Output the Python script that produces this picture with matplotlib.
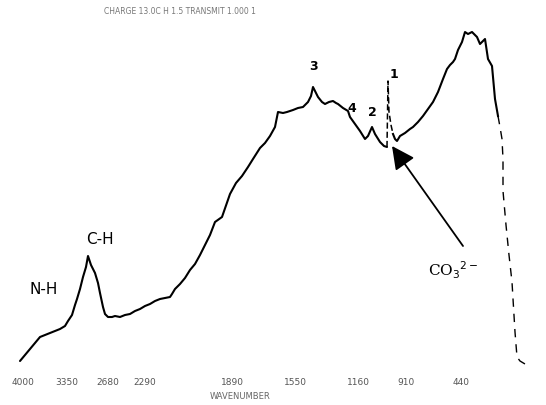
import matplotlib.pyplot as plt
from matplotlib.patches import FancyArrowPatch

# spectrum trace, chart units (x across, y up from bottom edge)
trace_x = [20, 25, 30, 35, 40, 45, 50, 55, 60, 65, 68, 72, 75, 77, 80, 83, 86, 88,
           91, 95, 98, 100, 103, 105, 108, 112, 115, 120, 125, 130, 135, 140, 145,
           150, 155, 160, 165, 170, 172, 175, 180, 185, 190, 195, 200, 205, 210,
           215, 222, 230, 236, 242, 248, 253, 260, 265, 270, 275, 278, 283, 287,
           293, 298, 303, 308, 311, 313, 315, 318, 322, 325, 329, 333, 336, 338,
           343, 348, 350, 355, 360, 365, 368, 372, 375, 380, 384, 387]
trace_y = [44, 50, 56, 62, 68, 70, 72, 74, 76, 79, 84, 90, 100, 106, 116, 128, 138, 149,
           140, 132, 122, 112, 98, 91, 88, 88, 89, 88, 90, 91, 94, 96, 99,
           101, 104, 106, 107, 108, 111, 116, 121, 127, 135, 141, 150, 160, 170,
           183, 188, 211, 222, 229, 238, 246, 257, 262, 269, 278, 293, 292, 293,
           295, 297, 298, 303, 309, 318, 314, 308, 303, 301, 303, 304, 302, 301,
           297, 294, 288, 281, 274, 266, 269, 278, 271, 263, 259, 258]

# sharp carbonate band "1"
spike_x = [387, 388, 389, 391, 393]
spike_y = [258, 324, 293, 280, 271]

rise_x = [393, 395, 397, 400, 405, 410, 413, 418, 423, 428, 433, 438, 443, 447,
          450, 453, 455, 458, 462, 465, 468, 472, 475, 477, 480, 483, 485, 488,
          492, 495, 498]
rise_y = [271, 266, 264, 269, 272, 276, 278, 283, 289, 296, 303, 313, 326, 336,
          340, 343, 346, 355, 363, 373, 371, 373, 370, 368, 361, 364, 366, 346,
          339, 306, 289]

fall_x = [498, 500, 502, 503, 503, 506, 509, 512, 515, 517, 520, 525]
fall_y = [289, 278, 266, 246, 214, 180, 150, 123, 73, 48, 44, 41]

tick_pos = [23, 67, 108, 145, 232, 295, 358, 406, 461]
tick_labels = ["4000", "3350", "2680", "2290", "1890", "1550", "1160", "910", "440"]

band_labels = ["3", "4", "2", "1"]
band_pos = [(313, 340), (352, 298), (372, 294), (394, 331)]

fig = plt.figure(figsize=(5.46, 4.06), dpi=100)
ax = fig.add_axes([0, 0, 1, 1])
ax.set_xlim(0, 546)
ax.set_ylim(0, 406)
ax.axis("off")

ax.plot(trace_x, trace_y, color="black", lw=1.5, solid_capstyle="round")
ax.plot(spike_x, spike_y, color="black", lw=1.1, ls=(0, (4, 2)))
ax.plot(rise_x, rise_y, color="black", lw=1.5)
ax.plot(fall_x, fall_y, color="black", lw=1.0, ls=(0, (6, 5)))

# carbonate arrow
ax.add_patch(FancyArrowPatch((463, 159), (392, 259), arrowstyle="-|>,head_length=14,head_width=7",
                             color="black", lw=1.3, shrinkA=0, shrinkB=0))
ax.text(428, 136, r"CO$_3$$^{2-}$", family="DejaVu Serif", fontsize=11, ha="left", va="center")

ax.text(100, 166, "C-H", fontsize=11, ha="center", va="center")
ax.text(44, 116, "N-H", fontsize=11, ha="center", va="center")
for lab, (x, y) in zip(band_labels, band_pos):
    ax.text(x, y, lab, fontsize=9, fontweight="bold", ha="center", va="center")

for p, lab in zip(tick_pos, tick_labels):
    ax.text(p, 23, lab, fontsize=6.5, color="#555555", ha="center", va="center")
ax.text(240, 9, "WAVENUMBER", fontsize=6, color="#666666", ha="center", va="center")
ax.text(180, 394, "CHARGE 13.0C H 1.5 TRANSMIT 1.000 1", fontsize=5.5, color="#777777",
        ha="center", va="center")

fig.savefig("out.png", dpi=100)
